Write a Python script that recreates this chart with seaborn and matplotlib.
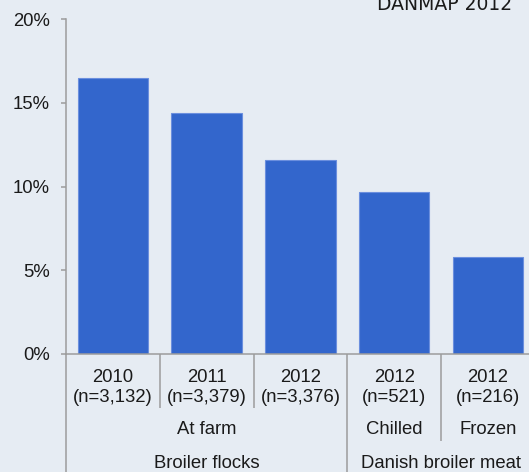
import matplotlib
matplotlib.use("Agg")
import matplotlib.pyplot as plt
import seaborn as sns
import pandas as pd

# Share of positive samples per group
groups = ["2010\n(n=3,132)", "2011\n(n=3,379)", "2012\n(n=3,376)",
          "2012\n(n=521)", "2012\n(n=216)"]
percent = [16.5, 14.4, 11.6, 9.7, 5.8]
y_ticks = [0, 5, 10, 15, 20]
y_tick_labels = ["0%", "5%", "10%", "15%", "20%"]

# Second and third level of the category axis
sub_labels = ["At farm", "Chilled", "Frozen"]
sub_centers = [1, 3, 4]
top_labels = ["Broiler flocks", "Danish broiler meat"]
top_centers = [1, 3.5]
title = "DANMAP 2012"

BG = "#e6ecf3"
BAR = "#3366cc"
LINE = "#9c9c9c"
TEXT = "#1a1a1a"
FS = 13.3

sns.set_theme(style="white")
plt.rcParams["font.family"] = ["Liberation Sans", "DejaVu Sans"]

W, H, DPI = 529, 472, 100
fig = plt.figure(figsize=(W / DPI, H / DPI), dpi=DPI, facecolor=BG)

# axes box in pixels: left 66, top 19, bottom 354, slot width 93.75
ax_left, ax_top, ax_bottom, ax_width = 66, 19, 354, 468.75
ax = fig.add_axes([ax_left / W, (H - ax_bottom) / H,
                   ax_width / W, (ax_bottom - ax_top) / H])
ax.set_facecolor(BG)

df = pd.DataFrame({"group": groups, "percent": percent})
sns.barplot(data=df, x="group", y="percent", color=BAR, saturation=1,
            width=0.75, edgecolor="#6b8fde", linewidth=0.8, ax=ax)

ax.set_xlim(-0.5, len(groups) - 0.5)
ax.set_ylim(0, 20)
ax.set_yticks(y_ticks)
ax.set_yticklabels(y_tick_labels)
ax.set_xlabel("")
ax.set_ylabel("")

for side in ("top", "right"):
    ax.spines[side].set_visible(False)
for side in ("left", "bottom"):
    ax.spines[side].set_color(LINE)
    ax.spines[side].set_linewidth(1.1)

ax.tick_params(axis="y", length=3.6, width=1.1, color=LINE, pad=8.2,
               labelsize=FS, labelcolor=TEXT, left=True)
ax.tick_params(axis="x", length=0, pad=10.5, labelsize=FS,
               labelcolor=TEXT, bottom=True)
for lbl in ax.get_xticklabels():
    lbl.set_linespacing(1.3)

# pixel row -> axes fraction (below the axes the values are negative)
def row(px):
    return (ax_bottom - px) / (ax_bottom - ax_top)

tr = ax.get_xaxis_transform()

# category separators below the axis
separators = [(-0.5, 472), (0.5, 408), (1.5, 408), (2.5, 472), (3.5, 441)]
for xs, y_end in separators:
    ax.plot([xs, xs], [0, row(y_end)], transform=tr, color=LINE,
            lw=1.1, clip_on=False, solid_capstyle="butt")

for lab, xc in zip(sub_labels, sub_centers):
    ax.text(xc, row(430), lab, transform=tr, ha="center", va="center",
            fontsize=FS, color=TEXT)
for lab, xc in zip(top_labels, top_centers):
    ax.text(xc, row(463), lab, transform=tr, ha="center", va="center",
            fontsize=FS, color=TEXT)

fig.text(512 / W, 1 - 9.5 / H, title, ha="right", va="baseline",
         fontsize=13.5, color=TEXT, family=["DejaVu Sans"])

fig.savefig("out.png", dpi=DPI, facecolor=BG)
